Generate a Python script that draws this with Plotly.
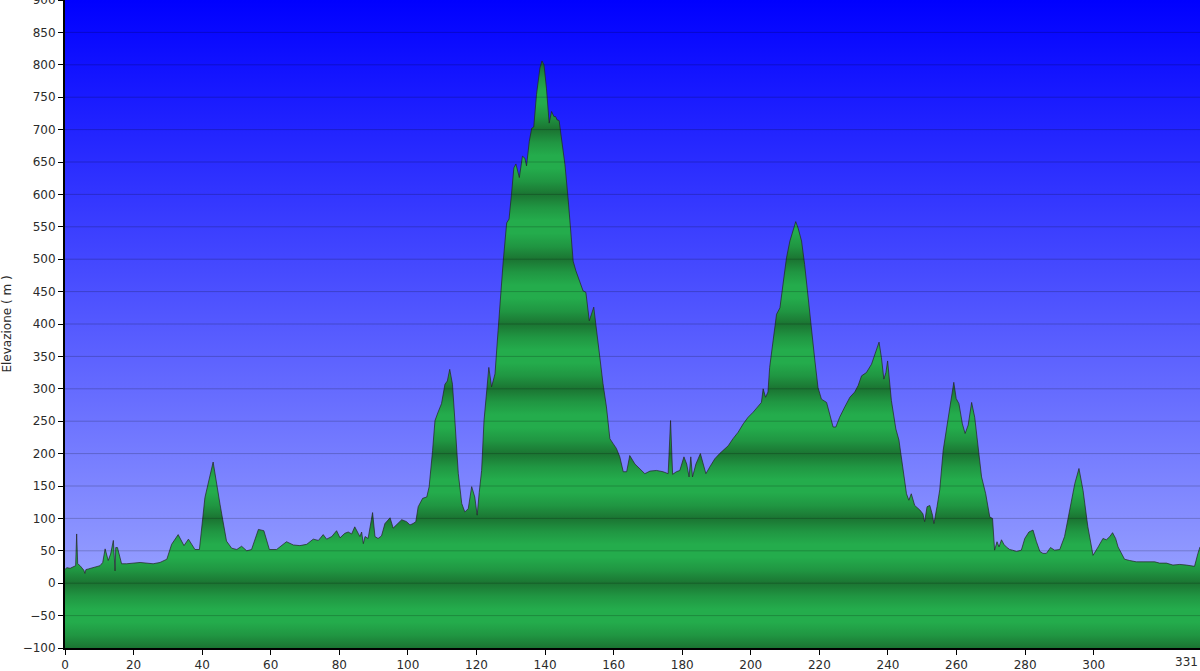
import plotly.graph_objects as go

# ---------------- data ----------------
km = [
    0.0, 0.5, 1.5, 2.4, 3.1, 3.4, 3.7, 4.4, 5.5, 5.8, 6.1, 6.8, 8.3, 10.2, 11.0, 11.7, 12.6, 13.3,
    14.1, 14.6, 14.8, 15.3, 16.5, 18.0, 21.9, 25.7, 27.7, 29.7, 31.1, 33.0, 34.7, 36.0, 37.9, 39.2,
    40.8, 43.2, 45.2, 47.1, 48.6, 50.1, 51.5, 53.0, 54.4, 56.4, 58.0, 59.6, 61.7, 63.2, 64.6, 66.6,
    68.5, 70.5, 72.4, 73.9, 75.3, 76.3, 77.8, 79.2, 80.2,
    81.6, 82.6, 83.6, 84.5, 85.5, 86.0, 86.5, 87.0, 87.5, 88.4, 89.7, 90.4, 91.3, 92.3, 93.3, 94.8,
    95.7, 96.7, 98.2, 99.6, 100.6, 101.5, 102.3, 103.0, 104.3, 105.5, 106.2, 107.2, 107.9, 108.8,
    109.8, 110.8, 111.5, 112.2, 113.0, 113.7, 114.7, 115.7, 116.6, 117.6, 118.6, 119.5, 120.2, 120.8,
    121.5, 122.2, 122.9, 123.6, 124.4, 125.4, 126.3, 127.3, 127.8, 128.8, 129.5, 130.2, 130.9, 131.5,
    132.5, 133.4, 134.1, 134.6, 135.4, 136.1, 136.7, 137.5, 138.5, 139.1, 139.7, 140.4, 141.2, 141.9,
    142.6, 143.1, 143.5, 144.1, 144.8, 145.8, 146.7, 147.4, 148.2, 149.0, 150.1, 151.1, 151.9, 152.9,
    154.2, 155.0, 156.0, 156.9, 157.9, 158.9, 159.9, 160.8, 161.8,
    162.8, 163.8, 164.7, 166.2, 167.6, 169.1, 170.6, 172.5, 174.4, 175.9, 176.6, 177.2, 178.3, 179.3,
    180.5, 181.3, 182.0, 182.5, 183.0, 184.0, 185.3, 186.1, 186.9, 188.0, 189.5, 190.9, 192.4, 193.4,
    194.8, 196.3, 197.8, 199.2, 200.7, 202.1, 203.1, 203.6, 204.3, 205.0, 205.5, 206.5, 207.5, 208.5,
    209.4, 210.4, 211.4, 212.3, 213.1, 213.8, 214.8, 215.7, 216.7, 217.7, 218.7, 219.6, 220.6, 222.1,
    223.0, 224.0, 224.8, 225.9, 227.4, 228.9, 230.3, 231.3, 232.3, 233.7, 235.2, 236.2, 237.4, 238.1,
    238.8, 239.4, 239.9,
    241.0, 242.3, 243.2, 244.2, 245.4, 246.1, 246.8, 247.8, 249.3, 250.2, 250.7, 251.4, 252.2, 253.0,
    253.4, 254.3, 255.1, 256.1, 257.1, 258.2, 259.2, 259.9, 260.7, 261.7, 262.5, 263.4, 264.4, 265.3,
    266.3, 267.3, 268.5, 269.7, 270.5, 271.1, 271.8, 272.4, 273.1, 273.8, 274.5, 275.5, 276.3, 277.5,
    278.9, 279.9, 281.1, 282.3, 283.3, 284.3, 285.2, 286.2, 287.4, 288.6, 290.1, 291.5, 293.0, 294.5,
    295.7, 296.9, 298.3, 299.8, 301.3, 302.7, 303.7, 304.7, 305.5, 306.4, 307.1, 308.1, 309.0, 310.5,
    312.4, 314.4, 316.3, 317.8, 319.2, 321.2, 323.1, 325.1, 327.0, 329.4, 330.4, 331.0,
]
elevation = [
    21, 24, 23, 25, 27, 76, 30, 27, 20, 15, 21, 22, 24, 27, 32, 53, 35, 45,
    66, 19, 55, 55, 30, 30, 32, 30, 32, 37, 60, 75, 58, 68, 52, 52,
    132, 187, 122, 65, 54, 52, 57, 50, 52, 83, 81, 52, 52, 58, 64, 59,
    58, 60, 68, 66, 75, 68, 72, 81, 70,
    77, 79, 76, 87, 77, 72, 79, 61, 72, 69, 109, 72, 69, 73, 92, 101,
    85, 90, 98, 95, 90, 92, 95, 118, 131, 133, 149, 205, 251, 264,
    277, 307, 312, 330, 307, 251, 169, 123, 110, 115, 149, 133, 105, 140,
    174, 251, 290, 333, 303, 323, 390, 467, 497, 556, 562, 600, 641, 647,
    626, 659, 656, 644, 682, 702, 704, 754, 795, 806, 800, 764, 710, 728,
    720, 720, 715, 714, 687, 646, 595, 549, 497, 482, 467, 451, 449, 405,
    426, 390, 349, 308, 272, 223, 215, 208, 195,
    172, 172, 197, 184, 177, 169, 173, 174, 172, 169, 251, 168, 172, 174,
    195, 184, 164, 195, 164, 184, 200, 184, 169, 179, 192, 200, 207, 212,
    223, 233, 246, 256, 264, 272, 279, 300, 287, 295, 333, 374, 415, 425,
    461, 502, 528, 543, 558, 548, 528, 492, 441, 384, 343, 302, 284, 279,
    261, 241, 241, 256, 272, 287, 295, 305, 320, 325, 338, 354, 372, 348,
    315, 325, 343,
    282, 238, 221, 185, 138, 128, 138, 120, 113, 107, 95, 118, 120, 105,
    92, 118, 144, 205, 241, 277, 310, 285, 277, 246, 231, 244, 279, 256,
    205, 164, 138, 102, 100, 51, 64, 56, 67, 60, 56, 52, 51, 49,
    51, 69, 79, 82, 64, 49, 46, 46, 55, 51, 52, 72, 113, 154,
    177, 143, 87, 43, 56, 69, 67, 72, 78, 69, 56, 46, 37, 35,
    33, 33, 33, 33, 31, 31, 28, 29, 28, 26, 46, 56,
]

total_km = 331
x_ticks = list(range(0, 301, 20))
x_tick_text = [str(v) for v in x_ticks]
y_range = [-100, 900]
y_ticks = list(range(-100, 901, 50))
y_title = "Elevazione ( m )"

# ---------------- styling ----------------
FONT = dict(family="Verdana, DejaVu Sans, sans-serif", size=12, color="#2b2b2b")
BG_TOP = "rgb(0,0,255)"
BG_BOTTOM = "rgb(168,178,255)"
GREEN_DARK = (27, 116, 50)
GREEN_LIGHT = (36, 172, 76)


def mix(a, b, t):
    return "rgb(%d,%d,%d)" % tuple(round(a[i] + (b[i] - a[i]) * t) for i in range(3))


span = y_range[1] - y_range[0]
green_scale = []
for base in range(y_range[0], y_range[1], 100):
    for off, t in [(0, 0.0), (20, 0.6), (40, 1.0), (60, 1.0), (80, 0.6)]:
        green_scale.append([(base + off - y_range[0]) / span, mix(GREEN_DARK, GREEN_LIGHT, t)])
green_scale.append([1.0, mix(GREEN_DARK, GREEN_LIGHT, 0.0)])

fig = go.Figure()

# background gradient (plot area)
fig.add_trace(go.Scatter(
    x=[0, total_km, total_km, 0, 0],
    y=[y_range[0], y_range[0], y_range[1], y_range[1], y_range[0]],
    mode="lines", line=dict(width=0), fill="toself",
    fillgradient=dict(type="vertical", colorscale=[[0, BG_BOTTOM], [1, BG_TOP]],
                      start=y_range[0], stop=y_range[1]),
    hoverinfo="skip", showlegend=False,
))

# baseline for the area fill
fig.add_trace(go.Scatter(
    x=[0, total_km], y=[y_range[0], y_range[0]],
    mode="lines", line=dict(width=0), hoverinfo="skip", showlegend=False,
))

# elevation profile
fig.add_trace(go.Scatter(
    x=km, y=elevation, mode="lines", fill="tonexty",
    line=dict(color="rgba(35,35,35,0.7)", width=1),
    fillgradient=dict(type="vertical", colorscale=green_scale,
                      start=y_range[0], stop=y_range[1]),
    showlegend=False, name="Elevazione",
))

# horizontal grid lines drawn above the area
shapes = []
for v in y_ticks:
    if y_range[0] < v < y_range[1]:
        shapes.append(dict(type="line", xref="paper", x0=0, x1=1, yref="y", y0=v, y1=v,
                           line=dict(color="rgba(0,0,0,0.2)", width=1), layer="above"))

fig.update_layout(
    width=1200, height=671,
    margin=dict(l=65, r=0, t=0, b=23),
    paper_bgcolor="white", plot_bgcolor="white",
    showlegend=False,
    shapes=shapes,
    font=FONT,
    annotations=[dict(x=total_km, y=0, xref="x", yref="paper", text=str(total_km),
                      showarrow=False, xanchor="right", yanchor="top", yshift=-5,
                      font=FONT)],
)
fig.update_xaxes(
    range=[0, total_km], tickvals=x_ticks + [total_km], ticktext=x_tick_text + [""],
    showgrid=False, zeroline=False, showline=True, linecolor="black", linewidth=2,
    ticks="outside", ticklen=5, tickcolor="black", tickwidth=1, tickfont=FONT,
    automargin=False, ticklabeloverflow="allow",
)
fig.update_yaxes(
    range=y_range, tickvals=y_ticks, showgrid=False, zeroline=False,
    showline=True, linecolor="black", linewidth=2,
    ticks="outside", ticklen=5, tickcolor="black", tickwidth=1, tickfont=FONT,
    automargin=False, ticklabeloverflow="allow",
    title=dict(text=y_title, font=dict(family=FONT["family"], size=12, color="#2b2b2b"), standoff=12),
)

fig.write_html(
    "out.html",
    config={"displayModeBar": False},
    post_script="document.body.style.margin='0';document.body.style.overflow='hidden';",
)
